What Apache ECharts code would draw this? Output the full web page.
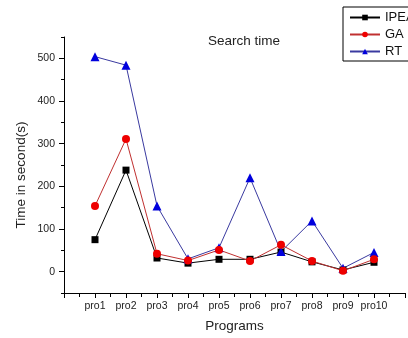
<!DOCTYPE html>
<html><head><meta charset="utf-8">
<script src="https://cdn.jsdelivr.net/npm/echarts@6/dist/echarts.min.js"></script>
<style>html,body{margin:0;padding:0;background:#fff}#c{width:408px;height:338px}</style>
</head><body><div id="c"></div>
<script>
var categories = ['pro1','pro2','pro3','pro4','pro5','pro6','pro7','pro8','pro9','pro10'];
var ipea = [75, 238, 32, 20, 29, 29, 46, 23, 4, 22];
var ga = [154, 311, 42, 26, 51, 25, 63, 25, 2, 29];
var rt = [504, 484, 154, 30, 56, 220, 47, 119, 8, 45];
var yTicks = [0, 100, 200, 300, 400, 500];
var yMinorTicks = [-50, 50, 150, 250, 350, 450, 550];

function pts(arr){ return arr.map(function(v,i){ return [i+1, v]; }); }
var font = '"Liberation Sans", Arial, sans-serif';
var chart = echarts.init(document.getElementById('c'), null, {renderer:'canvas'});
chart.setOption({
  animation: false,
  backgroundColor: '#fff',
  title: {text: 'Search time', left: 208, top: 34, padding: 0,
    textStyle: {fontFamily: font, fontSize: 13.5, fontWeight: 'normal', color: '#222'}},
  legend: {
    orient: 'vertical', left: 343, top: 7,
    data: ['IPEA','GA','RT'],
    backgroundColor: '#fff', borderColor: '#000', borderWidth: 1,
    padding: [4, 6, 3, 6], itemWidth: 30, itemHeight: 7, itemGap: 4,
    textStyle: {fontFamily: font, fontSize: 13, color: '#111'}
  },
  grid: {left: 64, right: -2, top: 37, bottom: 42},
  xAxis: {
    type: 'value', min: 0, max: 11, interval: 1,
    name: 'Programs', nameLocation: 'middle', nameGap: 26,
    nameTextStyle: {fontFamily: font, fontSize: 13.5, color: '#222'},
    axisLine: {show: true, onZero: false, lineStyle: {color: '#000', width: 1}},
    axisTick: {show: true, length: 5, lineStyle: {color: '#000'}},
    minorTick: {show: true, splitNumber: 2, length: 4, lineStyle: {color: '#000'}},
    splitLine: {show: false},
    axisLabel: {fontFamily: font, fontSize: 10.5, color: '#222', margin: 8,
      formatter: function(v){ return categories[v-1] || ''; }}
  },
  yAxis: [{
    type: 'value', min: -50, max: 550,
    axisLine: {show: true, lineStyle: {color: '#000', width: 1}},
    axisTick: {show: true, length: 5, customValues: yTicks, lineStyle: {color: '#000'}},
    axisLabel: {fontFamily: font, fontSize: 10.5, color: '#222', margin: 9, customValues: yTicks},
    splitLine: {show: false}
  },{
    type: 'value', min: -50, max: 550, position: 'left',
    axisLine: {show: false},
    axisTick: {show: true, length: 3, customValues: yMinorTicks, lineStyle: {color: '#000'}},
    axisLabel: {show: false, customValues: yMinorTicks},
    splitLine: {show: false}
  }],
  graphic: [{
    type: 'text', x: 21, y: 175, rotation: Math.PI/2,
    style: {text: 'Time in second(s)', fontFamily: font, fontSize: 13.5, fill: '#222',
      align: 'center', verticalAlign: 'middle'}
  }],
  series: [
    {name: 'IPEA', type: 'line', data: pts(ipea), symbol: 'rect', symbolSize: 7,
      itemStyle: {color: '#000'}, lineStyle: {color: '#000', width: 1}},
    {name: 'RT', type: 'line', data: pts(rt), symbol: 'triangle', symbolSize: 9,
      itemStyle: {color: '#0000dd'}, lineStyle: {color: '#3a3aa0', width: 1}},
    {name: 'GA', type: 'line', data: pts(ga), symbol: 'circle', symbolSize: 8,
      itemStyle: {color: '#ee0000'}, lineStyle: {color: '#c03030', width: 1}}
  ]
});
</script></body></html>
